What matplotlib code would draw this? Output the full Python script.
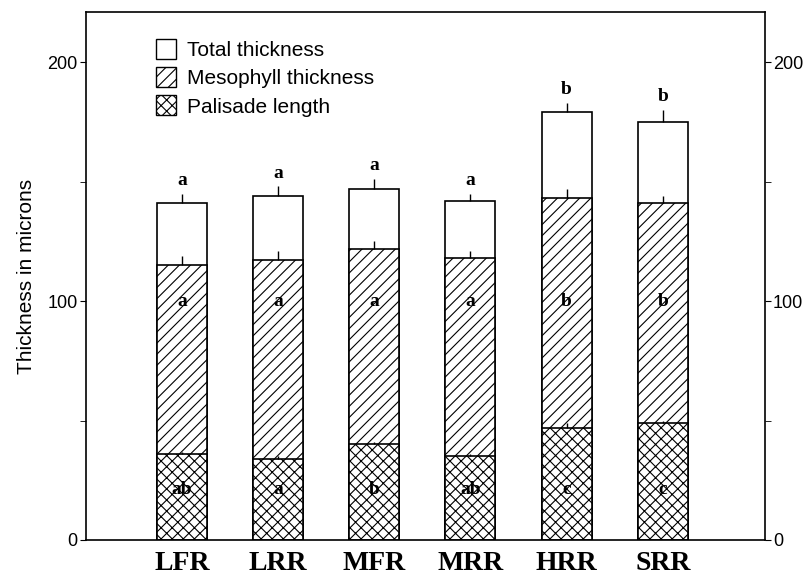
import numpy as np
import matplotlib
matplotlib.use("Agg")
import matplotlib.pyplot as plt
from matplotlib.patches import Patch
from matplotlib.ticker import MultipleLocator

# values (microns)
sites = ["LFR", "LRR", "MFR", "MRR", "HRR", "SRR"]
total = [141, 144, 147, 142, 179, 175]
mesophyll = [115, 117, 122, 118, 143, 141]
palisade = [36, 34, 40, 35, 47, 49]
total_err = [4, 4, 4, 3, 4, 5]
meso_err = [4, 4, 3, 3, 4, 3]
pal_err = [1, 1, 1, 1, 2, 1]
total_letters = ["a", "a", "a", "a", "b", "b"]
meso_letters = ["a", "a", "a", "a", "b", "b"]
pal_letters = ["ab", "a", "b", "ab", "c", "c"]

plt.rcParams["hatch.linewidth"] = 0.8
serif = "Liberation Serif"
sans = "Liberation Sans"

fig = plt.figure(figsize=(8.1, 5.75), dpi=100)
ax = fig.add_axes([0.106, 0.061, 0.838, 0.918])

x = np.arange(len(sites))
w = 0.52
kw = dict(width=w, edgecolor="black", linewidth=1.2, facecolor="white")
ax.bar(x, total, **kw)
ax.bar(x, mesophyll, hatch="///", **kw)
ax.bar(x, palisade, hatch="xxx", **kw)

zeros = np.zeros(len(sites))
for vals, err in [(total, total_err), (mesophyll, meso_err), (palisade, pal_err)]:
    ax.errorbar(x, vals, yerr=[zeros, err], fmt="none", ecolor="black",
                elinewidth=1.0, capsize=0)

for i in x:
    ax.text(i, total[i] + total_err[i] + 2, total_letters[i], ha="center",
            va="bottom", family=serif, fontweight="bold", fontsize=14)
    ax.text(i, 100, meso_letters[i], ha="center", va="center",
            family=serif, fontweight="bold", fontsize=14)
    ax.text(i, 21, pal_letters[i], ha="center", va="center",
            family=serif, fontweight="bold", fontsize=14)

ax.set_xlim(-1, 6.06)
ax.set_ylim(0, 221)
ax.set_xticks(x)
ax.set_xticklabels(sites, family=serif, fontweight="bold", fontsize=20)
ax.tick_params(axis="x", length=0, pad=8)
ax.yaxis.set_major_locator(MultipleLocator(100))
ax.yaxis.set_minor_locator(MultipleLocator(50))
ax.tick_params(axis="y", which="both", direction="out", length=4, pad=2,
               labelsize=13, right=True, labelright=True)
for lab in ax.get_yticklabels():
    lab.set_family(sans)
for s in ax.spines.values():
    s.set_linewidth(1.2)

ax.set_ylabel("Thickness in microns", family=sans, fontsize=15, labelpad=8)

handles = [
    Patch(facecolor="white", edgecolor="black", label="Total thickness"),
    Patch(facecolor="white", edgecolor="black", hatch="///", label="Mesophyll thickness"),
    Patch(facecolor="white", edgecolor="black", hatch="xxx", label="Palisade length"),
]
ax.legend(handles=handles, loc="upper left", bbox_to_anchor=(0.075, 0.985),
          frameon=False, prop={"family": sans, "size": 15},
          handlelength=1.0, handleheight=1.1, handletextpad=0.5,
          labelspacing=0.35)

fig.savefig("out.png", dpi=100)
